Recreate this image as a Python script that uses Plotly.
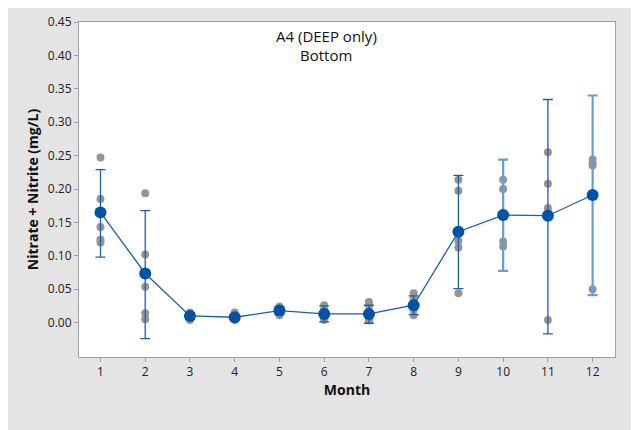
import plotly.graph_objects as go

months = [1, 2, 3, 4, 5, 6, 7, 8, 9, 10, 11, 12]
mean_vals = [0.165, 0.0735, 0.010, 0.008, 0.018, 0.013, 0.013, 0.026, 0.136, 0.161, 0.160, 0.191]
err_upper = [0.229, 0.1675, 0.015, 0.012, 0.024, 0.025, 0.026, 0.040, 0.2205, 0.244, 0.334, 0.340]
err_lower = [0.098, -0.024, 0.005, 0.004, 0.012, 0.001, -0.001, 0.012, 0.051, 0.0775, -0.017, 0.041]

obs_month = [1, 1, 1, 1, 1,
             2, 2, 2, 2, 2,
             3, 3, 3, 3, 3,
             4, 4, 4, 4, 4,
             5, 5, 5, 5, 5,
             6, 6, 6, 6, 6,
             7, 7, 7, 7, 7,
             8, 8, 8, 8,
             9, 9, 9, 9, 9,
             10, 10, 10, 10,
             11, 11, 11, 11, 11,
             12, 12, 12, 12]
obs_vals = [0.247, 0.185, 0.143, 0.124, 0.120,
            0.1935, 0.102, 0.0535, 0.014, 0.005,
            0.015, 0.012, 0.008, 0.005, 0.004,
            0.015, 0.010, 0.006, 0.004, 0.005,
            0.024, 0.022, 0.018, 0.014, 0.011,
            0.026, 0.020, 0.010, 0.005, 0.004,
            0.031, 0.025, 0.008, 0.004, 0.003,
            0.044, 0.036, 0.020, 0.011,
            0.214, 0.1975, 0.1225, 0.1125, 0.044,
            0.214, 0.200, 0.1215, 0.114,
            0.255, 0.208, 0.1715, 0.165, 0.004,
            0.244, 0.238, 0.235, 0.050]

x_ticks = months
y_ticks = [0.00, 0.05, 0.10, 0.15, 0.20, 0.25, 0.30, 0.35, 0.40, 0.45]

dark_bar_months = [1, 2, 3, 4, 5, 6, 7, 8, 9, 11]
light_bar_months = [10, 12]

def err_parts(sel):
    xs, ys, up, dn = [], [], [], []
    for i, m in enumerate(months):
        if m in sel:
            xs.append(m)
            ys.append(mean_vals[i])
            up.append(err_upper[i] - mean_vals[i])
            dn.append(mean_vals[i] - err_lower[i])
    return xs, ys, up, dn

fig = go.Figure()

fig.add_trace(go.Scatter(
    x=obs_month, y=obs_vals, mode="markers",
    marker=dict(color="#959595", size=8, line=dict(width=0)),
    showlegend=False, hoverinfo="skip"))

for sel, col, w in [(dark_bar_months, "#1f5fae", 1.3), (light_bar_months, "#6a9bd1", 2.2)]:
    xs, ys, up, dn = err_parts(sel)
    fig.add_trace(go.Scatter(
        x=xs, y=ys, mode="markers",
        marker=dict(size=1, opacity=0),
        error_y=dict(type="data", symmetric=False, array=up, arrayminus=dn,
                     color=col, thickness=w, width=5),
        showlegend=False, hoverinfo="skip"))

fig.add_trace(go.Scatter(
    x=months, y=mean_vals, mode="lines+markers",
    line=dict(color="#1a5cb0", width=1.3),
    marker=dict(color="#0052a5", size=12, line=dict(width=0)),
    showlegend=False))

font_family = "Open Sans, Noto Sans, sans-serif"

fig.update_layout(
    width=650, height=440,
    margin=dict(l=71, r=43, t=14, b=91, autoexpand=False),
    paper_bgcolor="#e4e4e4",
    plot_bgcolor="white",
    font=dict(family=font_family, size=12, color="#222222"),
    annotations=[
        dict(text="A4 (DEEP only)", x=0.461, y=0.958, xref="paper", yref="paper",
             showarrow=False, font=dict(size=15, color="#111111", family=font_family),
             xanchor="center", yanchor="middle"),
        dict(text="Bottom", x=0.461, y=0.9, xref="paper", yref="paper",
             showarrow=False, font=dict(size=15, color="#111111", family=font_family),
             xanchor="center", yanchor="middle"),
    ],
)

fig.update_xaxes(
    range=[0.52, 12.5], tickvals=x_ticks, ticktext=[str(v) for v in x_ticks],
    showgrid=False, zeroline=False, showline=True, linecolor="#a0a0a0", linewidth=1,
    mirror=True, ticks="outside", ticklen=4, tickcolor="#a0a0a0", automargin=False,
    title=dict(text="<b>Month</b>", font=dict(size=14, color="#111111"), standoff=5),
    tickfont=dict(size=12, color="#222222"))

fig.update_yaxes(
    range=[-0.0515, 0.45], tickvals=y_ticks, ticktext=[f"{v:.2f}" for v in y_ticks],
    showgrid=False, zeroline=False, showline=True, linecolor="#a0a0a0", linewidth=1,
    mirror=True, ticks="outside", ticklen=4, tickcolor="#a0a0a0", automargin=False,
    title=dict(text="<b>Nitrate + Nitrite (mg/L)</b>", font=dict(size=14, color="#111111"), standoff=5),
    tickfont=dict(size=12, color="#222222"))

fig.write_html("out.html")
